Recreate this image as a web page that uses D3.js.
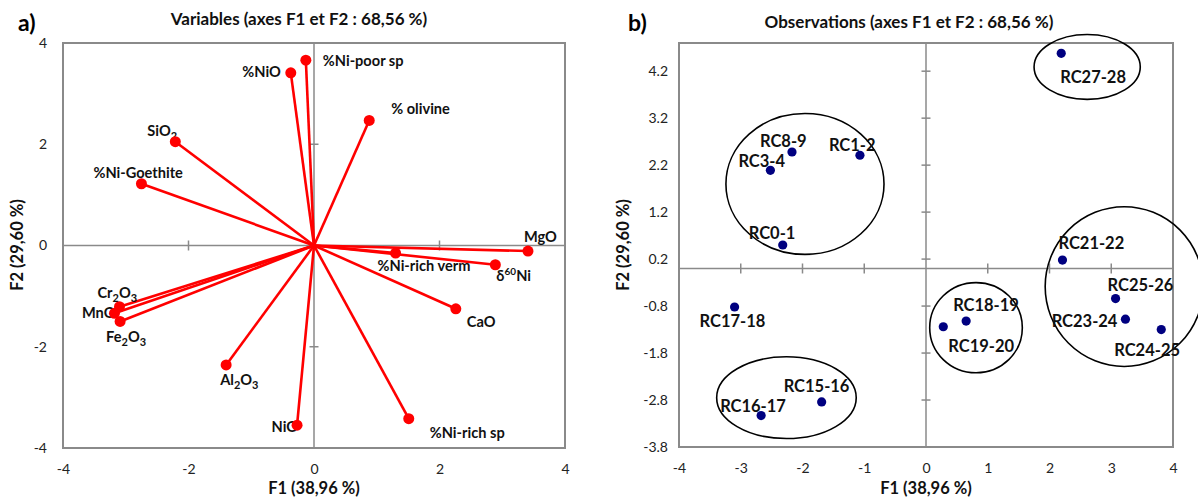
<!DOCTYPE html>
<html>
<head>
<meta charset="utf-8">
<script src="https://cdn.jsdelivr.net/npm/d3@7"></script>
<style>
  html, body { margin: 0; padding: 0; background: #fff; }
  svg { display: block; font-family: Lato, "Open Sans", sans-serif; }
</style>
</head>
<body>
<svg id="chart" width="1198" height="501"></svg>
<script>
// ---- PCA loadings (variables) ----
const variables = ["%Ni-poor sp", "%NiO", "% olivine", "SiO2", "%Ni-Goethite", "MgO",
  "%Ni-rich verm", "δ60Ni", "CaO", "%Ni-rich sp", "NiO", "Al2O3", "Cr2O3", "MnO", "Fe2O3"];
const varF1 = [-0.13, -0.37, 0.88, -2.21, -2.75, 3.41, 1.30, 2.89, 2.26, 1.51, -0.27, -1.40, -3.10, -3.18, -3.09];
const varF2 = [3.66, 3.41, 2.47, 2.05, 1.22, -0.11, -0.15, -0.38, -1.25, -3.42, -3.55, -2.36, -1.21, -1.34, -1.50];

// ---- PCA scores (observations) ----
const observations = ["RC27-28", "RC8-9", "RC1-2", "RC3-4", "RC0-1", "RC21-22", "RC25-26", "RC18-19",
  "RC23-24", "RC19-20", "RC24-25", "RC17-18", "RC15-16", "RC16-17"];
const obsF1 = [2.19, -2.17, -1.07, -2.52, -2.32, 2.21, 3.07, 0.65, 3.23, 0.28, 3.81, -3.10, -1.69, -2.67];
const obsF2 = [4.58, 2.48, 2.41, 2.09, 0.50, 0.18, -0.64, -1.12, -1.08, -1.24, -1.30, -0.82, -2.84, -3.13];

// ---- groups of observations (ellipses, in F1/F2 units) ----
const groupF1 = [2.61, -1.96, 3.21, 0.81, -2.26];
const groupF2 = [4.29, 1.80, -0.385, -1.26, -2.75];
const groupR1 = [0.86, 1.28, 1.28, 0.75, 1.13];
const groupR2 = [0.69, 1.50, 1.70, 0.96, 0.87];

// ---- tick values ----
const leftTicks = [-4, -2, 0, 2, 4];
const rightXTicks = [-4, -3, -2, -1, 0, 1, 2, 3, 4];
const rightYTicks = [-3.8, -2.8, -1.8, -0.8, 0.2, 1.2, 2.2, 3.2, 4.2];

// ---- label placement relative to each point (px) ----
const varLabelPos = {
  "%Ni-poor sp": [17, 1, "start"], "%NiO": [-10, -1, "end"], "% olivine": [22, -11, "start"],
  "SiO2": [-28, -11, "start"], "%Ni-Goethite": [-48, -11, "start"], "MgO": [-4, -14, "start"],
  "%Ni-rich verm": [-18, 13, "start"], "δ60Ni": [1, 11, "start"], "CaO": [11, 13, "start"],
  "%Ni-rich sp": [21, 14, "start"], "NiO": [1, 2, "end"], "Al2O3": [-6, 15, "start"],
  "Cr2O3": [-22, -14, "start"], "MnO": [1, 0, "end"], "Fe2O3": [-14, 16, "start"]
};
const obsLabelPos = {
  "RC27-28": [-1, 24, "start"], "RC8-9": [-32, -11, "start"], "RC1-2": [-31, -10, "start"],
  "RC3-4": [-32, -9, "start"], "RC0-1": [-34, -12, "start"], "RC21-22": [-4, -17, "start"],
  "RC25-26": [-8, -14, "start"], "RC18-19": [-13, -16, "start"], "RC23-24": [-8, 1.5, "end"],
  "RC19-20": [5, 19, "start"], "RC24-25": [-47, 20, "start"], "RC17-18": [-35, 14, "start"],
  "RC15-16": [-38, -16, "start"], "RC16-17": [-41, -10, "start"]
};

const GREY = "#8a8a8a";
const svg = d3.select("#chart");

// scales
const xL = d3.scaleLinear().domain([-4, 4]).range([63, 565]);
const yL = d3.scaleLinear().domain([-4, 4]).range([448, 43]);
const xR = d3.scaleLinear().domain([-4, 4]).range([679, 1173]);
const yR = d3.scaleLinear().domain([-3.8, 4.8]).range([447, 43]);

// text with chemical subscripts / isotope superscript
function richText(sel, name) {
  const parts = name.match(/\d+|\D+/g);
  const isIso = name.startsWith("δ");
  const isChem = !name.includes("%") && !isIso;
  let shift = 0;
  parts.forEach(p => {
    const t = sel.append("tspan").text(p);
    const isNum = /^\d+$/.test(p);
    let target = 0;
    if (isNum && isChem) { target = 4; t.attr("font-size", "11px"); }
    if (isNum && isIso) { target = -6; t.attr("font-size", "10px"); }
    if (target !== shift) t.attr("dy", target - shift);
    shift = target;
  });
}

function frame(g, x, y) {
  const [x0, x1] = x.range(), [y0, y1] = y.range();
  g.append("rect").attr("x", x0).attr("y", y1).attr("width", x1 - x0).attr("height", y0 - y1)
    .attr("fill", "none").attr("stroke", GREY).attr("stroke-width", 2);
  g.append("line").attr("x1", x(0)).attr("x2", x(0)).attr("y1", y1).attr("y2", y0)
    .attr("stroke", GREY).attr("stroke-width", 1.5);
  g.append("line").attr("x1", x0).attr("x2", x1).attr("y1", y(0)).attr("y2", y(0))
    .attr("stroke", GREY).attr("stroke-width", 1.5);
}

function crossTicks(g, x, y, xt, yt) {
  xt.filter(v => v !== 0 && Math.abs(v) < 4).forEach(v => {
    g.append("line").attr("x1", x(v)).attr("x2", x(v)).attr("y1", y(0) - 5).attr("y2", y(0) + 5)
      .attr("stroke", GREY).attr("stroke-width", 1.5);
  });
  yt.forEach(v => {
    g.append("line").attr("x1", x(0) - 4.5).attr("x2", x(0) + 4.5).attr("y1", y(v)).attr("y2", y(v))
      .attr("stroke", GREY).attr("stroke-width", 1.5);
  });
}

function tickLabels(g, x, y, xt, yt, fmt) {
  const ax = g.append("g").attr("transform", `translate(0,${y.range()[0] + 13})`)
    .call(d3.axisBottom(x).tickValues(xt).tickSize(0).tickFormat(d => String(d)));
  const ay = g.append("g").attr("transform", `translate(${x.range()[0] - (fmt ? 8 : 13)},0)`)
    .call(d3.axisLeft(y).tickValues(yt).tickSize(0).tickFormat(fmt || (d => String(d))));
  [ax, ay].forEach(a => {
    a.select(".domain").remove();
    a.selectAll("text").attr("font-family", "Lato, sans-serif").attr("font-size", "14px").attr("fill", "#222");
  });
}

function titles(g, x, letter, lx, title, tx, ty, ylabX) {
  const [x0, x1] = x.range();
  g.append("text").attr("x", lx).attr("y", 31).attr("font-size", "23px").attr("font-weight", "bold")
    .text(letter);
  g.append("text").attr("x", tx).attr("y", ty).attr("text-anchor", "middle")
    .attr("font-size", "17px").attr("font-weight", "bold").attr("fill", "#111").text(title);
  g.append("text").attr("x", (x0 + x1) / 2).attr("y", 494).attr("text-anchor", "middle")
    .attr("font-size", "16.5px").attr("font-weight", "bold").attr("fill", "#111").text("F1 (38,96 %)");
  g.append("text").attr("transform", `translate(${ylabX},245) rotate(-90)`).attr("text-anchor", "middle")
    .attr("dy", "0.35em").attr("font-size", "16.5px").attr("font-weight", "bold").attr("fill", "#111")
    .text("F2 (29,60 %)");
}

// ---------- panel a : variables ----------
const gA = svg.append("g");
frame(gA, xL, yL);
crossTicks(gA, xL, yL, leftTicks, [-2, 2]);
tickLabels(gA, xL, yL, leftTicks, leftTicks, null);
titles(gA, xL, "a)", 18, "Variables (axes F1 et F2 : 68,56 %)", 299, 25, 17);

const vData = variables.map((n, i) => ({ name: n, f1: varF1[i], f2: varF2[i] }));
gA.selectAll("line.vec").data(vData).join("line").attr("class", "vec")
  .attr("x1", xL(0)).attr("y1", yL(0)).attr("x2", d => xL(d.f1)).attr("y2", d => yL(d.f2))
  .attr("stroke", "#ff0000").attr("stroke-width", 2.6);
gA.selectAll("text.vlab").data(vData).join("text").attr("class", "vlab")
  .attr("x", d => xL(d.f1) + varLabelPos[d.name][0])
  .attr("y", d => yL(d.f2) + varLabelPos[d.name][1] + 5)
  .attr("text-anchor", d => varLabelPos[d.name][2])
  .attr("font-size", "14.6px").attr("font-weight", "bold").attr("fill", "#111")
  .each(function (d) { richText(d3.select(this), d.name); });
gA.selectAll("circle.vpt").data(vData).join("circle").attr("class", "vpt")
  .attr("cx", d => xL(d.f1)).attr("cy", d => yL(d.f2)).attr("r", 5.5).attr("fill", "#ff0000");

// ---------- panel b : observations ----------
const gB = svg.append("g");
frame(gB, xR, yR);
crossTicks(gB, xR, yR, rightXTicks, rightYTicks);
tickLabels(gB, xR, yR, rightXTicks, rightYTicks, d => d.toFixed(1));
titles(gB, xR, "b)", 628, "Observations (axes F1 et F2 : 68,56 %)", 909, 28, 623);

const gData = groupF1.map((c, i) => ({ cx: c, cy: groupF2[i], r1: groupR1[i], r2: groupR2[i] }));
gB.selectAll("ellipse").data(gData).join("ellipse")
  .attr("cx", d => xR(d.cx)).attr("cy", d => yR(d.cy))
  .attr("rx", d => xR(d.r1) - xR(0)).attr("ry", d => yR(0) - yR(d.r2))
  .attr("fill", "none").attr("stroke", "#000").attr("stroke-width", 1.6);

const oData = observations.map((n, i) => ({ name: n, f1: obsF1[i], f2: obsF2[i] }));
gB.selectAll("text.olab").data(oData).join("text").attr("class", "olab")
  .attr("x", d => xR(d.f1) + obsLabelPos[d.name][0])
  .attr("y", d => yR(d.f2) + obsLabelPos[d.name][1] + 6)
  .attr("text-anchor", d => obsLabelPos[d.name][2])
  .attr("font-size", "16.5px").attr("font-weight", "bold").attr("fill", "#111")
  .text(d => d.name);
gB.selectAll("circle.opt").data(oData).join("circle").attr("class", "opt")
  .attr("cx", d => xR(d.f1)).attr("cy", d => yR(d.f2)).attr("r", 4.6).attr("fill", "#000080");
</script>
</body>
</html>
